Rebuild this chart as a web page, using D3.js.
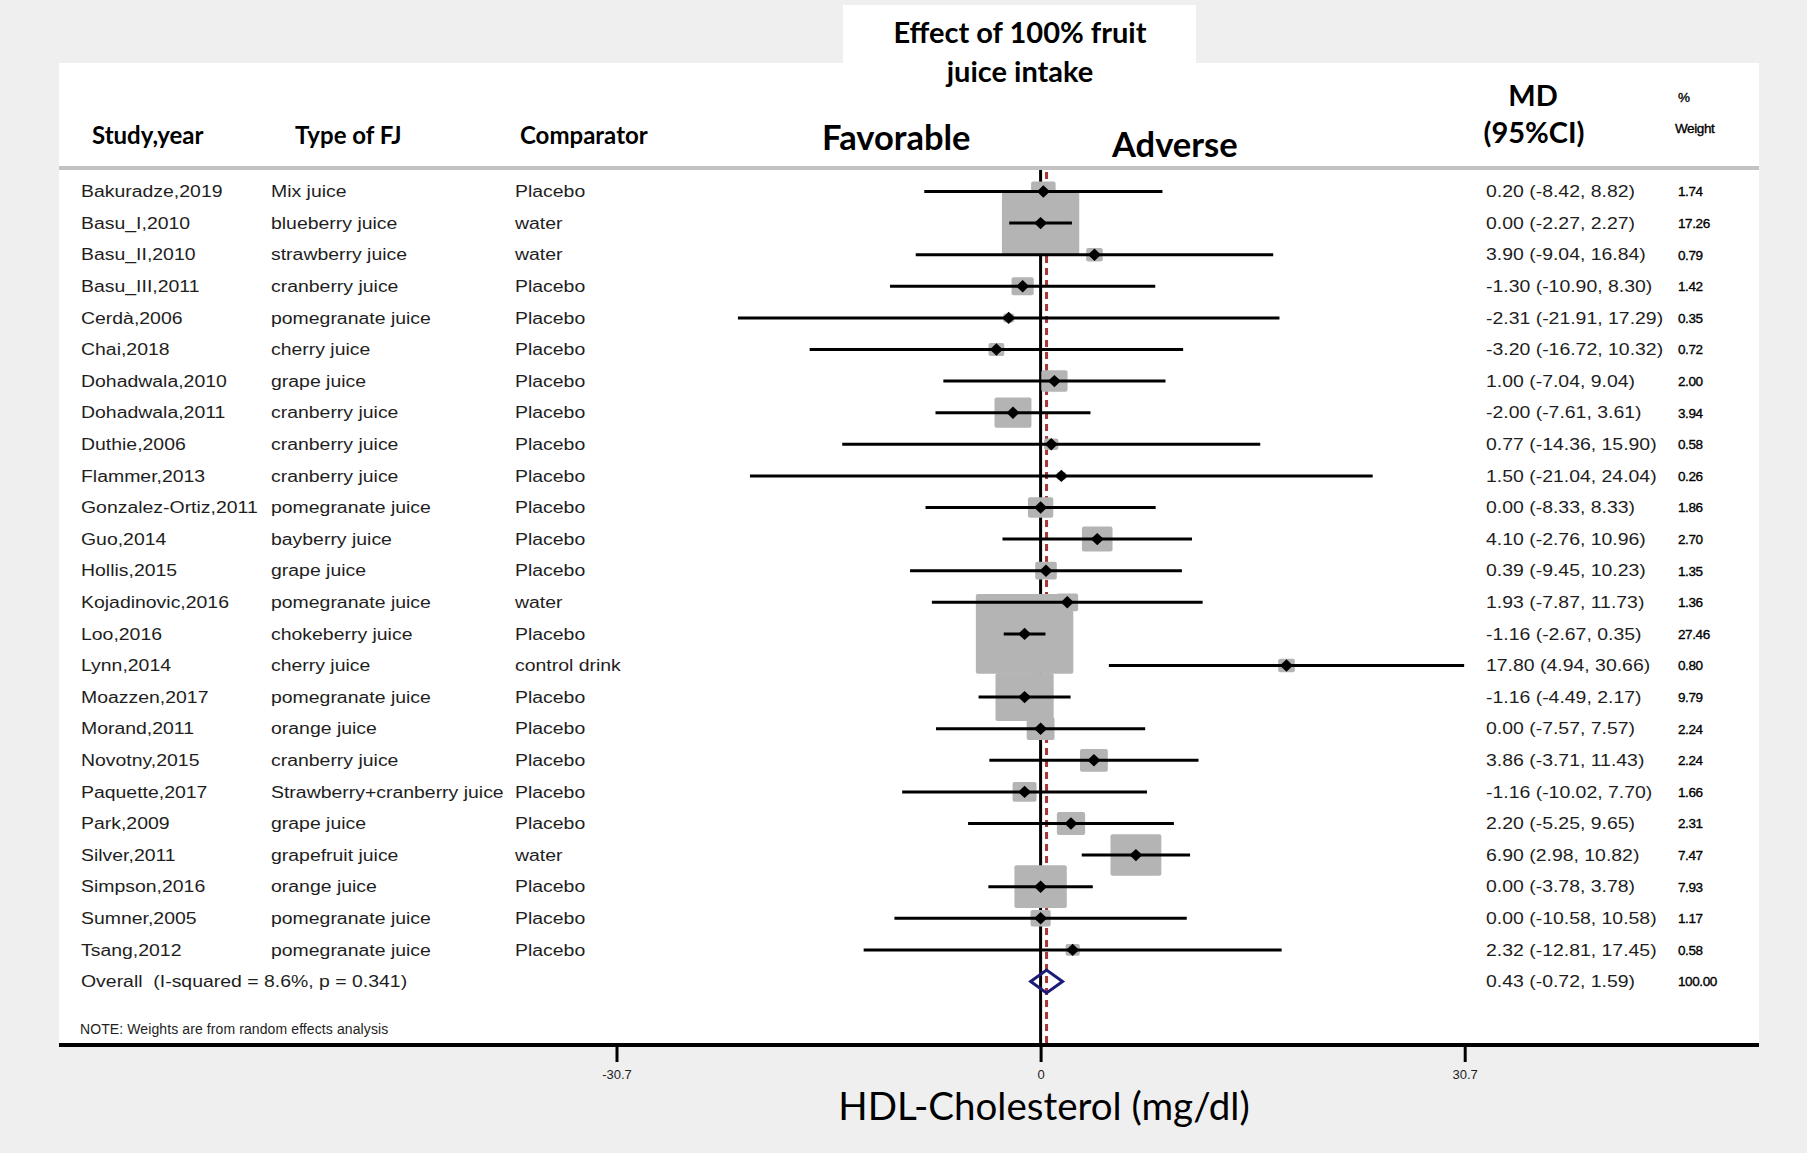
<!DOCTYPE html>
<html>
<head>
<meta charset="utf-8">
<script src="https://cdnjs.cloudflare.com/ajax/libs/d3/7.8.5/d3.min.js"></script>
<style>
  body { margin: 0; background: #efefef; }
  svg { display: block; }
  .row-text { font-family: "Liberation Sans", Arial, sans-serif; font-size: 15.8px; fill: #1e1e1e; white-space: pre; }
  .small-text { font-family: "Liberation Sans", Arial, sans-serif; font-size: 13px; fill: #1e1e1e; }
  .w-text { font-family: "Liberation Sans", Arial, sans-serif; font-size: 13.5px; fill: #000; stroke: #000; stroke-width: 0.35px; letter-spacing: -0.4px; }
  .head { font-family: Lato, "Open Sans", sans-serif; font-weight: 700; fill: #000; }
</style>
</head>
<body>
<div id="forest"></div>
<script>
// Study rows
var studies = ["Bakuradze,2019", "Basu_I,2010", "Basu_II,2010", "Basu_III,2011", "Cerdà,2006", "Chai,2018",
    "Dohadwala,2010", "Dohadwala,2011", "Duthie,2006", "Flammer,2013", "Gonzalez-Ortiz,2011", "Guo,2014",
    "Hollis,2015", "Kojadinovic,2016", "Loo,2016", "Lynn,2014", "Moazzen,2017", "Morand,2011",
    "Novotny,2015", "Paquette,2017", "Park,2009", "Silver,2011", "Simpson,2016", "Sumner,2005", "Tsang,2012"];

var juiceTypes = ["Mix juice", "blueberry juice", "strawberry juice", "cranberry juice", "pomegranate juice",
    "cherry juice", "grape juice", "cranberry juice", "cranberry juice", "cranberry juice", "pomegranate juice",
    "bayberry juice", "grape juice", "pomegranate juice", "chokeberry juice", "cherry juice", "pomegranate juice",
    "orange juice", "cranberry juice", "Strawberry+cranberry juice", "grape juice", "grapefruit juice",
    "orange juice", "pomegranate juice", "pomegranate juice"];

var comparators = ["Placebo", "water", "water", "Placebo", "Placebo", "Placebo", "Placebo", "Placebo", "Placebo",
    "Placebo", "Placebo", "Placebo", "Placebo", "water", "Placebo", "control drink", "Placebo", "Placebo",
    "Placebo", "Placebo", "Placebo", "water", "Placebo", "Placebo", "Placebo"];

// Mean difference and 95% CI
var md = [0.20, 0.00, 3.90, -1.30, -2.31, -3.20, 1.00, -2.00, 0.77, 1.50, 0.00, 4.10, 0.39, 1.93, -1.16,
    17.80, -1.16, 0.00, 3.86, -1.16, 2.20, 6.90, 0.00, 0.00, 2.32];
var lower = [-8.42, -2.27, -9.04, -10.90, -21.91, -16.72, -7.04, -7.61, -14.36, -21.04, -8.33, -2.76, -9.45,
    -7.87, -2.67, 4.94, -4.49, -7.57, -3.71, -10.02, -5.25, 2.98, -3.78, -10.58, -12.81];
var upper = [8.82, 2.27, 16.84, 8.30, 17.29, 10.32, 9.04, 3.61, 15.90, 24.04, 8.33, 10.96, 10.23, 11.73, 0.35,
    30.66, 2.17, 7.57, 11.43, 7.70, 9.65, 10.82, 3.78, 10.58, 17.45];

// % weight (random effects)
var weights = [1.74, 17.26, 0.79, 1.42, 0.35, 0.72, 2.00, 3.94, 0.58, 0.26, 1.86, 2.70, 1.35, 1.36, 27.46,
    0.80, 9.79, 2.24, 2.24, 1.66, 2.31, 7.47, 7.93, 1.17, 0.58];

// Pooled estimate
var overall = { md: 0.43, lower: -0.72, upper: 1.59, weight: 100.00 };
var overallLabel = "Overall  (I-squared = 8.6%, p = 0.341)";

// Axis ticks
var tickValues = [-30.7, 0, 30.7];
var tickLabels = ["-30.7", "0", "30.7"];

// SVG area
var svgWidth = 1807;
var svgHeight = 1153;

var svg = d3.select("#forest")
    .append("svg")
    .attr("width", svgWidth)
    .attr("height", svgHeight);

// Panel geometry
var panel = { left: 59, right: 1759, top: 63, bottom: 1045 };
var stretch = 1.23; // the stata graph was widened when pasted

// Scales
var xScale = d3.scaleLinear()
    .domain([-30.7, 30.7])
    .range([616.5, 1464.7]);

var yScale = d3.scaleLinear()
    .domain([0, studies.length])
    .range([191.5, 981.5]);

var boxW = d3.scaleSqrt().domain([0, 1]).range([0, 18.6]);
var boxH = d3.scaleSqrt().domain([0, 1]).range([0, 15.2]);

// Background panels
svg.append("rect")
    .attr("x", panel.left)
    .attr("y", panel.top)
    .attr("width", panel.right - panel.left)
    .attr("height", panel.bottom - panel.top)
    .attr("fill", "#fff");

svg.append("rect")
    .attr("x", 843)
    .attr("y", 5)
    .attr("width", 353)
    .attr("height", 62)
    .attr("fill", "#fff");

// Header separator
svg.append("line")
    .attr("x1", panel.left).attr("x2", panel.right)
    .attr("y1", 168).attr("y2", 168)
    .attr("stroke", "#c3c3c3")
    .attr("stroke-width", 4);

// Null line and pooled estimate line
svg.append("line")
    .attr("x1", xScale(0)).attr("x2", xScale(0))
    .attr("y1", 170).attr("y2", panel.bottom)
    .attr("stroke", "#000")
    .attr("stroke-width", 3);

svg.append("line")
    .attr("x1", xScale(overall.md)).attr("x2", xScale(overall.md))
    .attr("y1", 172).attr("y2", panel.bottom)
    .attr("stroke", "#a83636")
    .attr("stroke-width", 3)
    .attr("stroke-dasharray", "7,5");

var rows = studies.map(function(s, i) {
    return { study: s, type: juiceTypes[i], comp: comparators[i], md: md[i], lo: lower[i], hi: upper[i], w: weights[i] };
});

// Weight boxes
svg.selectAll(".wbox")
    .data(rows)
    .enter()
    .append("rect")
    .attr("class", "wbox")
    .attr("x", d => xScale(d.md) - boxW(d.w) / 2)
    .attr("y", (d, i) => yScale(i) - boxH(d.w) / 2)
    .attr("width", d => boxW(d.w))
    .attr("height", d => boxH(d.w))
    .attr("rx", 2)
    .attr("fill", "#b4b4b4");

// Confidence intervals
svg.selectAll(".ci")
    .data(rows)
    .enter()
    .append("line")
    .attr("class", "ci")
    .attr("x1", d => xScale(d.lo))
    .attr("x2", d => xScale(d.hi))
    .attr("y1", (d, i) => yScale(i))
    .attr("y2", (d, i) => yScale(i))
    .attr("stroke", "#000")
    .attr("stroke-width", 3);

// Point estimates
svg.selectAll(".pt")
    .data(rows)
    .enter()
    .append("path")
    .attr("class", "pt")
    .attr("transform", (d, i) => `translate(${xScale(d.md)}, ${yScale(i)})`)
    .attr("d", "M0,-6.2L6.5,0L0,6.2L-6.5,0Z")
    .attr("fill", "#000");

// Overall diamond
var oy = yScale(studies.length);
svg.append("path")
    .attr("d", `M${xScale(overall.lower)},${oy}L${xScale(overall.md)},${oy - 11.5}L${xScale(overall.upper)},${oy}L${xScale(overall.md)},${oy + 11.5}Z`)
    .attr("fill", "none")
    .attr("stroke", "#1c1c78")
    .attr("stroke-width", 3);

// x axis
var xAxis = d3.axisBottom(xScale)
    .tickValues(tickValues)
    .tickSize(17)
    .tickPadding(8)
    .tickFormat((d, i) => tickLabels[i]);

var axisG = svg.append("g")
    .attr("transform", `translate(0, ${panel.bottom})`)
    .call(xAxis);
axisG.select(".domain").remove();
axisG.selectAll(".tick line").attr("stroke", "#000").attr("stroke-width", 3);
axisG.selectAll(".tick text")
    .attr("class", "small-text")
    .attr("font-size", null)
    .attr("font-family", null)
    .attr("fill", "#1e1e1e");

svg.append("line")
    .attr("x1", panel.left).attr("x2", panel.right)
    .attr("y1", panel.bottom).attr("y2", panel.bottom)
    .attr("stroke", "#000")
    .attr("stroke-width", 4);

// Row text (stretched like the original)
function rowText(cls, x, accessor) {
    svg.selectAll("." + cls)
        .data(rows)
        .enter()
        .append("text")
        .attr("class", "row-text " + cls)
        .attr("transform", (d, i) => `translate(${x}, ${yScale(i)}) scale(${stretch}, 1)`)
        .attr("dy", "0.36em")
        .text(accessor);
}
rowText("c-study", 81, d => d.study);
rowText("c-type", 271, d => d.type);
rowText("c-comp", 515, d => d.comp);
rowText("c-md", 1486, d => `${d.md.toFixed(2)} (${d.lo.toFixed(2)}, ${d.hi.toFixed(2)})`);

svg.selectAll(".c-w")
    .data(rows)
    .enter()
    .append("text")
    .attr("class", "w-text c-w")
    .attr("x", 1678)
    .attr("y", (d, i) => yScale(i))
    .attr("dy", "0.36em")
    .text(d => d.w.toFixed(2));

// Overall row text
svg.append("text")
    .attr("class", "row-text")
    .attr("transform", `translate(81, ${oy}) scale(${stretch}, 1)`)
    .attr("dy", "0.36em")
    .text(overallLabel);
svg.append("text")
    .attr("class", "row-text")
    .attr("transform", `translate(1486, ${oy}) scale(${stretch}, 1)`)
    .attr("dy", "0.36em")
    .text(`${overall.md.toFixed(2)} (${overall.lower.toFixed(2)}, ${overall.upper.toFixed(2)})`);
svg.append("text")
    .attr("class", "w-text")
    .attr("x", 1678)
    .attr("y", oy)
    .attr("dy", "0.36em")
    .text(overall.weight.toFixed(2));

svg.append("text")
    .attr("class", "small-text")
    .attr("x", 80)
    .attr("y", 1029)
    .attr("dy", "0.36em")
    .style("font-size", "14px")
    .style("letter-spacing", "0.1px")
    .text("NOTE: Weights are from random effects analysis");

// Headers
var headers = [
    { t: "Study,year", x: 92, y: 144, s: 24, a: "start" },
    { t: "Type of FJ", x: 295, y: 144, s: 24, a: "start" },
    { t: "Comparator", x: 520, y: 144, s: 24, a: "start" },
    { t: "Favorable", x: 822, y: 150, s: 34.5, a: "start" },
    { t: "Adverse", x: 1112, y: 157, s: 34.5, a: "start" },
    { t: "MD", x: 1533, y: 106, s: 29, a: "middle" },
    { t: "(95%CI)", x: 1534, y: 143, s: 29, a: "middle" },
    { t: "Effect of 100% fruit", x: 1020, y: 43, s: 29, a: "middle" },
    { t: "juice intake", x: 1020, y: 82, s: 29, a: "middle" }
];
svg.selectAll(".head")
    .data(headers)
    .enter()
    .append("text")
    .attr("class", "head")
    .attr("x", d => d.x)
    .attr("y", d => d.y)
    .attr("text-anchor", d => d.a)
    .style("font-size", d => d.s + "px")
    .text(d => d.t);

svg.append("text")
    .attr("class", "w-text")
    .attr("x", 1678).attr("y", 97).attr("dy", "0.36em")
    .text("%");
svg.append("text")
    .attr("class", "w-text")
    .attr("x", 1675).attr("y", 128).attr("dy", "0.36em")
    .text("Weight");

// Axis title
svg.append("text")
    .attr("x", 1044)
    .attr("y", 1120)
    .attr("text-anchor", "middle")
    .style("font-family", "Lato, 'Open Sans', sans-serif")
    .style("font-size", "38.5px")
    .attr("fill", "#000")
    .text("HDL-Cholesterol (mg/dl)");
</script>
</body>
</html>
